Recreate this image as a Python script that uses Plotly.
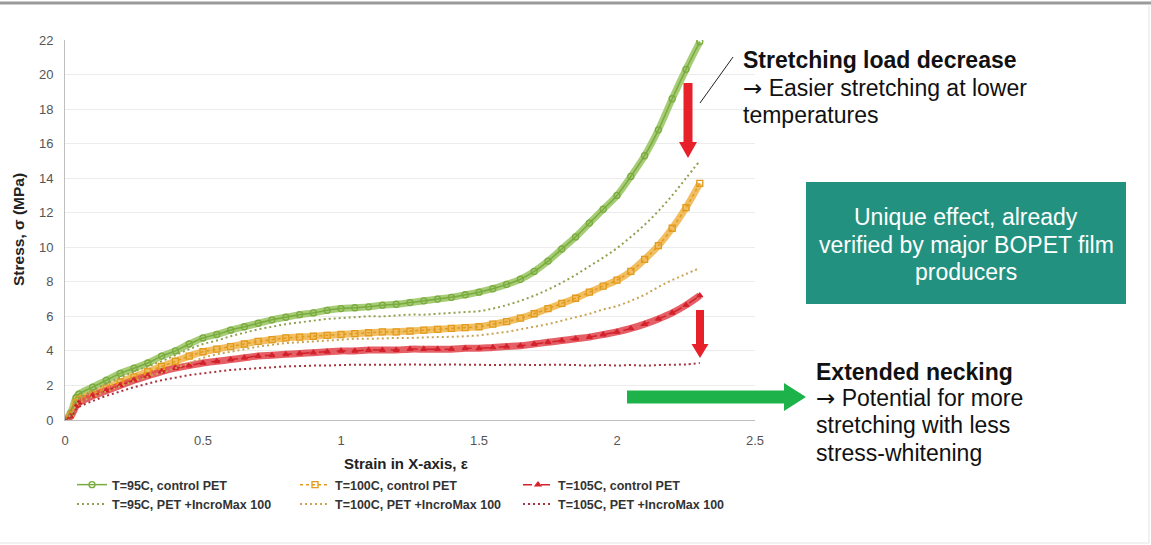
import plotly.graph_objects as go

# ---------------- data ----------------
strain = [0, 0.02, 0.04, 0.05, 0.1, 0.15, 0.2, 0.25, 0.3, 0.35, 0.4, 0.45, 0.5,
          0.55, 0.6, 0.65, 0.7, 0.75, 0.8, 0.85, 0.9, 0.95, 1.0, 1.05, 1.1, 1.15,
          1.2, 1.25, 1.3, 1.35, 1.4, 1.45, 1.5, 1.55, 1.6, 1.65, 1.7, 1.75, 1.8,
          1.85, 1.9, 1.95, 2.0, 2.05, 2.1, 2.15, 2.2, 2.25, 2.3]

stress_95_control = [0, 0.4, 1.3, 1.5, 1.9, 2.3, 2.7, 3.0, 3.3, 3.7, 4.0, 4.4, 4.75,
                     4.95, 5.2, 5.4, 5.6, 5.8, 5.95, 6.1, 6.2, 6.35, 6.45, 6.5, 6.55, 6.65,
                     6.7, 6.8, 6.9, 7.0, 7.1, 7.25, 7.4, 7.6, 7.85, 8.15, 8.6, 9.2, 9.9,
                     10.6, 11.4, 12.2, 13.0, 14.1, 15.3, 16.8, 18.6, 20.3, 21.9]
stress_95_incro = [0, 0.3, 1.0, 1.2, 1.7, 2.1, 2.45, 2.8, 3.1, 3.4, 3.75, 4.1, 4.4,
                   4.6, 4.85, 5.05, 5.25, 5.4, 5.55, 5.65, 5.75, 5.85, 5.9, 5.95, 6.0, 6.0,
                   6.05, 6.1, 6.1, 6.15, 6.2, 6.25, 6.3, 6.45, 6.65, 6.9, 7.2, 7.55, 7.95,
                   8.4, 8.9, 9.4, 9.95, 10.6, 11.3, 12.1, 13.0, 14.0, 15.0]
stress_100_control = [0, 0.3, 1.0, 1.2, 1.5, 1.85, 2.2, 2.5, 2.8, 3.1, 3.4, 3.7, 3.95,
                      4.1, 4.25, 4.4, 4.55, 4.65, 4.75, 4.8, 4.85, 4.9, 4.95, 5.0, 5.05, 5.1,
                      5.1, 5.15, 5.2, 5.25, 5.3, 5.35, 5.4, 5.55, 5.7, 5.9, 6.15, 6.45, 6.75,
                      7.05, 7.4, 7.75, 8.1, 8.6, 9.3, 10.1, 11.1, 12.3, 13.7]
stress_100_incro = [0, 0.25, 0.85, 1.0, 1.35, 1.65, 1.95, 2.25, 2.5, 2.75, 3.0, 3.3, 3.6,
                    3.8, 3.95, 4.1, 4.25, 4.35, 4.45, 4.5, 4.55, 4.6, 4.65, 4.7, 4.7, 4.72,
                    4.75, 4.75, 4.78, 4.8, 4.82, 4.85, 4.9, 5.0, 5.1, 5.25, 5.4, 5.55, 5.75,
                    5.95, 6.15, 6.4, 6.6, 6.9, 7.25, 7.7, 8.1, 8.45, 8.8]
stress_105_control = [0, 0.2, 0.8, 1.0, 1.4, 1.7, 2.0, 2.3, 2.55, 2.8, 3.0, 3.15, 3.3,
                      3.4, 3.5, 3.6, 3.7, 3.75, 3.8, 3.85, 3.9, 3.95, 4.0, 4.0, 4.05, 4.05,
                      4.05, 4.1, 4.1, 4.1, 4.1, 4.15, 4.15, 4.2, 4.25, 4.3, 4.4, 4.5, 4.6,
                      4.7, 4.8, 4.95, 5.1, 5.3, 5.55, 5.85, 6.2, 6.65, 7.2]
stress_105_incro = [0, 0.15, 0.6, 0.75, 1.1, 1.4, 1.65, 1.9, 2.1, 2.3, 2.45, 2.6, 2.7,
                    2.8, 2.9, 2.95, 3.0, 3.05, 3.1, 3.12, 3.15, 3.15, 3.18, 3.2, 3.2, 3.2,
                    3.2, 3.22, 3.2, 3.2, 3.22, 3.2, 3.2, 3.18, 3.2, 3.2, 3.18, 3.2, 3.2,
                    3.18, 3.15, 3.18, 3.15, 3.18, 3.15, 3.18, 3.2, 3.22, 3.3]

x_ticks = [0, 0.5, 1, 1.5, 2, 2.5]
x_tick_labels = ["0", "0.5", "1", "1.5", "2", "2.5"]
y_ticks = [0, 2, 4, 6, 8, 10, 12, 14, 16, 18, 20, 22]

# ---------------- layout helpers (pixel -> paper) ----------------
W, H = 1151, 545
L, R, T, B = 65, 755, 40, 420   # plot area in pixels


def px(x):
    return (x - L) / (R - L)


def py(y):
    return (B - y) / (B - T)


FONT = "Liberation Sans, Arial, sans-serif"
ARROW = '<span style="font-family:DejaVu Sans">→</span>'

fig = go.Figure()

controls = [
    ("T=95C, control PET", stress_95_control, "#7aab3f", "#97c45e", "circle-open", "solid", 6),
    ("T=100C, control PET", stress_100_control, "#e29b1c", "#efb347", "square-open", "dot", 6),
    ("T=105C, control PET", stress_105_control, "#d4222c", "#e0454c", "triangle-up", "dash", 5),
]
incros = [
    ("T=95C, PET +IncroMax 100", stress_95_incro, "#8fa14e"),
    ("T=100C, PET +IncroMax 100", stress_100_incro, "#c9a455"),
    ("T=105C, PET +IncroMax 100", stress_105_incro, "#a8333d"),
]

# bands behind the markers (no legend)
for name, ys, col, band, sym, dash, ms in controls:
    fig.add_trace(go.Scatter(x=strain, y=ys, mode="lines", showlegend=False,
                             line=dict(color=band, width=7, shape="spline"),
                             opacity=0.85, hoverinfo="skip"))

for name, ys, col, band, sym, dash, ms in controls:
    fig.add_trace(go.Scatter(
        x=strain, y=ys, name=name, mode="lines+markers",
        line=dict(color=col, width=1.5, dash=dash, shape="spline"),
        marker=dict(symbol=sym, size=ms, color=col, line=dict(color=col, width=1.3)),
    ))

for name, ys, col in incros:
    fig.add_trace(go.Scatter(
        x=strain, y=ys, name=name, mode="lines",
        line=dict(color=col, width=2, dash="2px,3px", shape="spline"),
    ))

# ---------------- shapes ----------------
shapes = []
# frame
shapes.append(dict(type="line", xref="paper", yref="paper", x0=px(0), x1=px(W),
                   y0=py(3), y1=py(3), line=dict(color="#9a9a9a", width=3)))
shapes.append(dict(type="line", xref="paper", yref="paper", x0=px(1149), x1=px(1149),
                   y0=py(4), y1=py(543), line=dict(color="#e4e4e4", width=1)))
shapes.append(dict(type="line", xref="paper", yref="paper", x0=px(0), x1=px(1149),
                   y0=py(543), y1=py(543), line=dict(color="#e4e4e4", width=1)))


def down_arrow(cx, y0, y1, sw, hw, hh, color):
    pts = [(cx - sw / 2, y0), (cx + sw / 2, y0), (cx + sw / 2, y1 - hh), (cx + hw / 2, y1 - hh),
           (cx, y1), (cx - hw / 2, y1 - hh), (cx - sw / 2, y1 - hh)]
    path = "M " + " L ".join(f"{px(a):.5f},{py(b):.5f}" for a, b in pts) + " Z"
    return dict(type="path", xref="paper", yref="paper", path=path,
                fillcolor=color, line=dict(width=0))


def right_arrow(x0, x1, cy, sw, hw, hl, color):
    pts = [(x0, cy - sw / 2), (x1 - hl, cy - sw / 2), (x1 - hl, cy - hw / 2), (x1, cy),
           (x1 - hl, cy + hw / 2), (x1 - hl, cy + sw / 2), (x0, cy + sw / 2)]
    path = "M " + " L ".join(f"{px(a):.5f},{py(b):.5f}" for a, b in pts) + " Z"
    return dict(type="path", xref="paper", yref="paper", path=path,
                fillcolor=color, line=dict(width=0))


shapes.append(down_arrow(688, 83, 158, 9, 18, 16, "#e8202a"))
shapes.append(down_arrow(700, 310, 358, 8, 17, 14, "#e8202a"))
shapes.append(right_arrow(627, 806, 397, 13, 28, 22, "#1eb34a"))
# thin leader line
shapes.append(dict(type="line", xref="paper", yref="paper", x0=px(700), y0=py(103),
                   x1=px(733), y1=py(57), line=dict(color="#222222", width=1)))
# teal box
shapes.append(dict(type="rect", xref="paper", yref="paper", x0=px(806), x1=px(1126),
                   y0=py(182), y1=py(304), fillcolor="#22917f", line=dict(width=0)))

# ---------------- annotations ----------------
ann = []


def text(x, y, s, size=23, bold=False, color="#111111", xanchor="left", angle=0):
    ann.append(dict(x=px(x), y=py(y), xref="paper", yref="paper", text=s, showarrow=False,
                    xanchor=xanchor, yanchor="middle", textangle=angle,
                    font=dict(family=FONT, size=size, color=color,
                              weight="bold" if bold else "normal")))


text(741, 60, "Stretching load decrease", bold=True)
text(741, 88, ARROW + " Easier stretching at lower")
text(741, 115, "temperatures")
text(966, 217, "Unique effect, already", color="#ffffff", xanchor="center")
text(966, 245, "verified by major BOPET film", color="#ffffff", xanchor="center")
text(966, 272, "producers", color="#ffffff", xanchor="center")
text(814, 372, "Extended necking", bold=True)
text(814, 398, ARROW + " Potential for more")
text(814, 425, "stretching with less")
text(814, 453, "stress-whitening")
text(406, 463, "Strain in X-axis, ε", size=15, bold=True, color="#222222", xanchor="center")
text(18, 230, "Stress, σ (MPa)", size=15.5, bold=True, color="#222222", xanchor="center", angle=-90)

fig.update_layout(
    width=W, height=H,
    margin=dict(l=L, r=W - R, t=T, b=H - B, pad=0),
    paper_bgcolor="white", plot_bgcolor="white",
    font=dict(family=FONT, size=13, color="#555555"),
    shapes=shapes, annotations=ann,
    legend=dict(orientation="h", x=px(72), y=py(470), xanchor="left", yanchor="top",
                entrywidth=178, entrywidthmode="pixels", traceorder="normal",
                font=dict(family=FONT, size=12.5, color="#333333", weight="bold"),
                bgcolor="rgba(0,0,0,0)", itemwidth=30, tracegroupgap=0),
    xaxis=dict(range=[0, 2.5], tickvals=x_ticks, ticktext=x_tick_labels,
               showgrid=False, zeroline=False, showline=True, linecolor="#bfbfbf",
               linewidth=1, ticks="", ticklabelstandoff=8,
               tickfont=dict(size=13, color="#555555")),
    yaxis=dict(range=[0, 22], tickvals=y_ticks, showgrid=True, gridcolor="#ececec",
               gridwidth=1, zeroline=False, showline=True, linecolor="#bfbfbf",
               linewidth=1, ticks="", ticklabelstandoff=8,
               tickfont=dict(size=13, color="#555555")),
)

fig.write_html("out.html")
